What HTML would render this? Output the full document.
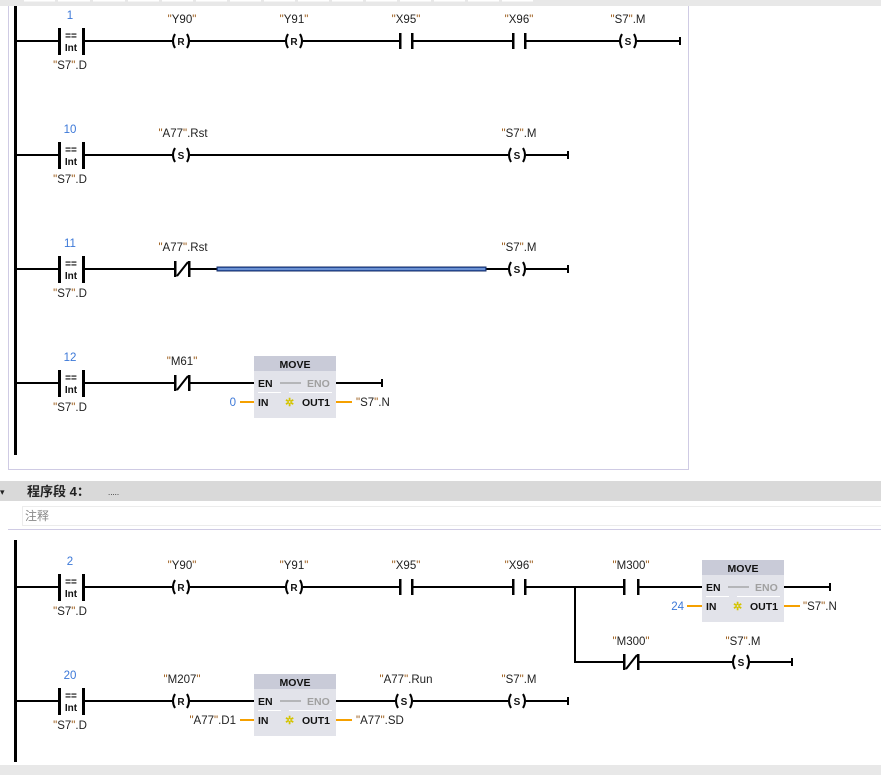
<!DOCTYPE html>
<html><head><meta charset="utf-8"><style>
html,body{margin:0;padding:0;background:#fff;width:881px;height:775px;overflow:hidden}
svg text{font-family:"Liberation Sans","Noto Sans CJK SC",sans-serif;font-size:11.5px;fill:#222}
.n{fill:#3c78d8;font-size:11.5px}
.q{fill:#9a5a18}
.c{font-size:10px;font-weight:bold;fill:#111}
.b{font-size:10.5px;font-weight:bold;fill:#111}
.g{fill:#a0a0a0;font-size:10.5px;font-weight:bold}
</style></head><body>
<svg width="881" height="775" viewBox="0 0 881 775" xmlns="http://www.w3.org/2000/svg">
<rect x="0" y="0" width="881" height="6" fill="#e8e8e8"/>
<g fill="#fff"><rect x="24" y="0" width="31" height="1.5"/><rect x="58" y="0" width="32" height="1.5"/><rect x="93" y="0" width="32" height="1.5"/><rect x="128" y="0" width="31" height="1.5"/><rect x="162" y="0" width="31" height="1.5"/><rect x="196" y="0" width="31" height="1.5"/><rect x="230" y="0" width="31" height="1.5"/><rect x="264" y="0" width="31" height="1.5"/><rect x="298" y="0" width="31" height="1.5"/><rect x="332" y="0" width="31" height="1.5"/><rect x="366" y="0" width="31" height="1.5"/><rect x="400" y="0" width="31" height="1.5"/><rect x="434" y="0" width="31" height="1.5"/><rect x="468" y="0" width="31" height="1.5"/><rect x="502" y="0" width="31" height="1.5"/></g>
<path d="M8.5 6 V469.5 H688.5 V6" fill="none" stroke="#cfcbe4" stroke-width="1"/>
<rect x="14" y="6" width="3" height="449" fill="#000"/>
<rect x="0" y="481" width="881" height="20" fill="#d9d9d9"/>
<text x="0" y="495" style="font-size:9px" fill="#333">▾</text>
<text x="27" y="496" style="font-size:13px;font-weight:bold">程序段 4：</text>
<text x="108" y="495" style="font-size:8px" fill="#999">.....</text>
<rect x="22.5" y="506.5" width="860" height="19" fill="#fff" stroke="#ececec"/>
<text x="25" y="520" style="font-size:12px;fill:#888">注释</text>
<line x1="8" y1="529.5" x2="881" y2="529.5" stroke="#cfcbe4"/>
<rect x="14" y="540" width="3" height="222" fill="#000"/>
<rect x="0" y="765" width="881" height="10" fill="#e8e8e8"/>

<g stroke="#000" stroke-width="2" fill="none">
<path d="M16 41H59M83 41H172M190 41H285M303 41H400M412 41H513M525 41H619M637 41H680"/>
<path d="M680 37V45"/>
<path d="M16 155H59M83 155H172M190 155H508M526 155H568M568 151V159"/>
<path d="M16 269H59M83 269H175M189 269H217M486 269H508M526 269H568M568 265V273"/>
<path d="M16 383H59M83 383H175M189 383H254M336 383H382M382 379V387"/>
<path d="M16 587H59M83 587H172M190 587H285M303 587H400M412 587H513M525 587H624M638 587H702M784 587H830M830 583V591"/>
<path d="M575 587V662H624M638 662H732M750 662H792M792 658V666"/>
<path d="M16 701H59M83 701H172M190 701H254M336 701H395M413 701H508M526 701H568M568 697V705"/>
</g>
<g fill="#000">
<rect x="58" y="28" width="3" height="27"/><rect x="82" y="28" width="3" height="27"/>
<rect x="58" y="142" width="3" height="27"/><rect x="82" y="142" width="3" height="27"/>
<rect x="58" y="256" width="3" height="27"/><rect x="82" y="256" width="3" height="27"/>
<rect x="58" y="370" width="3" height="27"/><rect x="82" y="370" width="3" height="27"/>
<rect x="58" y="574" width="3" height="27"/><rect x="82" y="574" width="3" height="27"/>
<rect x="58" y="688" width="3" height="27"/><rect x="82" y="688" width="3" height="27"/>
<rect x="399" y="33" width="2.5" height="16"/><rect x="411" y="33" width="2.5" height="16"/>
<rect x="512" y="33" width="2.5" height="16"/><rect x="524" y="33" width="2.5" height="16"/>
<rect x="399" y="579" width="2.5" height="16"/><rect x="411" y="579" width="2.5" height="16"/>
<rect x="512" y="579" width="2.5" height="16"/><rect x="524" y="579" width="2.5" height="16"/>
<rect x="623" y="579" width="2.5" height="16"/><rect x="637" y="579" width="2.5" height="16"/>
<rect x="174" y="261" width="2.5" height="16"/><rect x="188" y="261" width="2.5" height="16"/>
<rect x="174" y="375" width="2.5" height="16"/><rect x="188" y="375" width="2.5" height="16"/>
<rect x="623" y="654" width="2.5" height="16"/><rect x="637" y="654" width="2.5" height="16"/>
</g>
<g stroke="#000" stroke-width="2"><path d="M177 276L188 262M177 390L188 376M626 669L637 655"/></g>
<g class="c" text-anchor="middle">
<text x="71" y="39" class="c">==</text><text x="71" y="51" class="c">Int</text>
<text x="71" y="153" class="c">==</text><text x="71" y="165" class="c">Int</text>
<text x="71" y="267" class="c">==</text><text x="71" y="279" class="c">Int</text>
<text x="71" y="381" class="c">==</text><text x="71" y="393" class="c">Int</text>
<text x="71" y="585" class="c">==</text><text x="71" y="597" class="c">Int</text>
<text x="71" y="699" class="c">==</text><text x="71" y="711" class="c">Int</text>
</g>
<g stroke="#000" stroke-width="2" fill="none">
<path d="M175 34Q171 41 175 48M187 34Q191 41 187 48"/>
<path d="M288 34Q284 41 288 48M300 34Q304 41 300 48"/>
<path d="M622 34Q618 41 622 48M634 34Q638 41 634 48"/>
<path d="M175 148Q171 155 175 162M187 148Q191 155 187 162"/>
<path d="M511 148Q507 155 511 162M523 148Q527 155 523 162"/>
<path d="M511 262Q507 269 511 276M523 262Q527 269 523 276"/>
<path d="M175 580Q171 587 175 594M187 580Q191 587 187 594"/>
<path d="M288 580Q284 587 288 594M300 580Q304 587 300 594"/>
<path d="M735 655Q731 662 735 669M747 655Q751 662 747 669"/>
<path d="M175 694Q171 701 175 708M187 694Q191 701 187 708"/>
<path d="M398 694Q394 701 398 708M410 694Q414 701 410 708"/>
<path d="M511 694Q507 701 511 708M523 694Q527 701 523 708"/>
</g>
<g class="c" text-anchor="middle">
<text x="181" y="45" class="c">R</text><text x="294" y="45" class="c">R</text><text x="628" y="45" class="c">S</text>
<text x="181" y="159" class="c">S</text><text x="517" y="159" class="c">S</text>
<text x="517" y="273" class="c">S</text>
<text x="181" y="591" class="c">R</text><text x="294" y="591" class="c">R</text>
<text x="741" y="666" class="c">S</text>
<text x="181" y="705" class="c">R</text><text x="404" y="705" class="c">S</text><text x="517" y="705" class="c">S</text>
</g>
<rect x="217" y="267" width="269" height="4" fill="#2f5fb8" stroke="#1a2f66" stroke-width="1"/>
<line x1="218" y1="269" x2="485" y2="269" stroke="#a8c6f0" stroke-width="1"/>

<g>
<rect x="254" y="356" width="82" height="62" fill="#e2e3ea"/><rect x="254" y="356" width="82" height="15" fill="#c9cbd8"/>
<rect x="702" y="560" width="82" height="62" fill="#e2e3ea"/><rect x="702" y="560" width="82" height="15" fill="#c9cbd8"/>
<rect x="254" y="674" width="82" height="62" fill="#e2e3ea"/><rect x="254" y="674" width="82" height="15" fill="#c9cbd8"/>
</g>
<g stroke="#888" stroke-width="1"><path d="M280 383H301M728 587H749M280 701H301"/></g>
<g stroke="#fff" stroke-width="1"><path d="M258 392.5H281M289 392.5H332M706 596.5H729M737 596.5H780M258 710.5H281M289 710.5H332"/></g>
<g stroke="#f5a000" stroke-width="2"><path d="M240 402H254M336 402H352M687 606H702M784 606H800M240 720H254M336 720H352"/></g>
<text x="295" y="368" class="b" text-anchor="middle">MOVE</text>
<text x="743" y="572" class="b" text-anchor="middle">MOVE</text>
<text x="295" y="686" class="b" text-anchor="middle">MOVE</text>
<text x="258" y="387" class="b">EN</text><text x="307" y="387" class="g">ENO</text>
<text x="258" y="406" class="b">IN</text><text x="302" y="406" class="b">OUT1</text><text x="285" y="406" style="font-size:11px;fill:#d4c400;font-weight:bold">✲</text>
<text x="706" y="591" class="b">EN</text><text x="755" y="591" class="g">ENO</text>
<text x="706" y="610" class="b">IN</text><text x="750" y="610" class="b">OUT1</text><text x="733" y="610" style="font-size:11px;fill:#d4c400;font-weight:bold">✲</text>
<text x="258" y="705" class="b">EN</text><text x="307" y="705" class="g">ENO</text>
<text x="258" y="724" class="b">IN</text><text x="302" y="724" class="b">OUT1</text><text x="285" y="724" style="font-size:11px;fill:#d4c400;font-weight:bold">✲</text>

<text x="70" y="19" class="n" text-anchor="middle">1</text>
<text x="70" y="133" class="n" text-anchor="middle">10</text>
<text x="70" y="247" class="n" text-anchor="middle">11</text>
<text x="70" y="361" class="n" text-anchor="middle">12</text>
<text x="70" y="565" class="n" text-anchor="middle">2</text>
<text x="70" y="679" class="n" text-anchor="middle">20</text>
<text x="236" y="406" class="n" text-anchor="end">0</text>
<text x="684" y="610" class="n" text-anchor="end">24</text>

<g text-anchor="middle">
<text x="70" y="69"><tspan class="q">"</tspan>S7<tspan class="q">"</tspan>.D</text>
<text x="70" y="183"><tspan class="q">"</tspan>S7<tspan class="q">"</tspan>.D</text>
<text x="70" y="297"><tspan class="q">"</tspan>S7<tspan class="q">"</tspan>.D</text>
<text x="70" y="411"><tspan class="q">"</tspan>S7<tspan class="q">"</tspan>.D</text>
<text x="70" y="615"><tspan class="q">"</tspan>S7<tspan class="q">"</tspan>.D</text>
<text x="70" y="729"><tspan class="q">"</tspan>S7<tspan class="q">"</tspan>.D</text>
<text x="182" y="23"><tspan class="q">"</tspan>Y90<tspan class="q">"</tspan></text>
<text x="294" y="23"><tspan class="q">"</tspan>Y91<tspan class="q">"</tspan></text>
<text x="406" y="23"><tspan class="q">"</tspan>X95<tspan class="q">"</tspan></text>
<text x="519" y="23"><tspan class="q">"</tspan>X96<tspan class="q">"</tspan></text>
<text x="628" y="23"><tspan class="q">"</tspan>S7<tspan class="q">"</tspan>.M</text>
<text x="183" y="137"><tspan class="q">"</tspan>A77<tspan class="q">"</tspan>.Rst</text>
<text x="519" y="137"><tspan class="q">"</tspan>S7<tspan class="q">"</tspan>.M</text>
<text x="183" y="251"><tspan class="q">"</tspan>A77<tspan class="q">"</tspan>.Rst</text>
<text x="519" y="251"><tspan class="q">"</tspan>S7<tspan class="q">"</tspan>.M</text>
<text x="182" y="365"><tspan class="q">"</tspan>M61<tspan class="q">"</tspan></text>
<text x="182" y="569"><tspan class="q">"</tspan>Y90<tspan class="q">"</tspan></text>
<text x="294" y="569"><tspan class="q">"</tspan>Y91<tspan class="q">"</tspan></text>
<text x="406" y="569"><tspan class="q">"</tspan>X95<tspan class="q">"</tspan></text>
<text x="519" y="569"><tspan class="q">"</tspan>X96<tspan class="q">"</tspan></text>
<text x="631" y="569"><tspan class="q">"</tspan>M300<tspan class="q">"</tspan></text>
<text x="631" y="645"><tspan class="q">"</tspan>M300<tspan class="q">"</tspan></text>
<text x="743" y="645"><tspan class="q">"</tspan>S7<tspan class="q">"</tspan>.M</text>
<text x="182" y="683"><tspan class="q">"</tspan>M207<tspan class="q">"</tspan></text>
<text x="406" y="683"><tspan class="q">"</tspan>A77<tspan class="q">"</tspan>.Run</text>
<text x="519" y="683"><tspan class="q">"</tspan>S7<tspan class="q">"</tspan>.M</text>
</g>
<text x="356" y="406"><tspan class="q">"</tspan>S7<tspan class="q">"</tspan>.N</text>
<text x="803" y="610"><tspan class="q">"</tspan>S7<tspan class="q">"</tspan>.N</text>
<text x="356" y="724"><tspan class="q">"</tspan>A77<tspan class="q">"</tspan>.SD</text>
<text x="236" y="724" text-anchor="end"><tspan class="q">"</tspan>A77<tspan class="q">"</tspan>.D1</text>
</svg>
</body></html>
